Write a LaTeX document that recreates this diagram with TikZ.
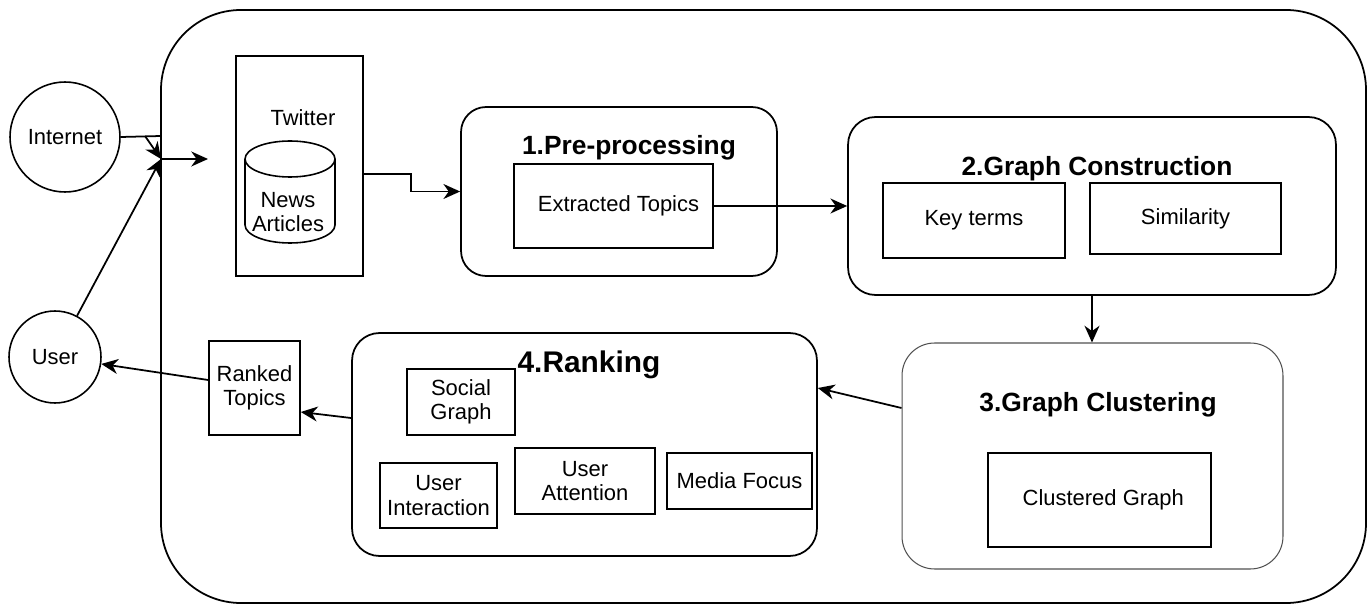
\documentclass[tikz,border=0pt]{standalone}
\usepackage{fontspec}
\setmainfont{Liberation Sans}
\usetikzlibrary{positioning, arrows.meta, shapes}
\definecolor{cgrey}{RGB}{80,80,80}

\begin{document}
\begin{tikzpicture}[x=0.02cm, y=-0.02cm,
    box/.style={draw, line width=0.9pt, rectangle, inner sep=2pt, align=center, font=\fontsize{12.5}{14}\selectfont},
    stage/.style={draw, line width=1pt, rectangle, rounded corners=0.5cm},
    stagetitle/.style={font=\fontsize{15}{18}\selectfont\bfseries},
    lbl/.style={align=center, font=\fontsize{12.5}{14}\selectfont},
    arr/.style={line width=1pt, -{Stealth[length=9.5pt, width=8.5pt, inset=3pt]}}]
        \useasboundingbox (0,0) rectangle (1369,604);

        % system frame
        \draw[line width=1pt, rounded corners=1.6cm] (161,10) rectangle (1366,603);

        % outside actors
        \node[draw, circle, line width=0.9pt, minimum size=2.2cm, lbl] (internet) at (65,137) {Internet};
        \node[draw, circle, line width=0.9pt, minimum size=1.84cm, lbl] (user) at (55,357) {User};
        \coordinate (hub) at (161,159);
        \coordinate (feed) at (208,159);

        % sources
        \node[draw, line width=0.9pt, minimum width=2.54cm, minimum height=4.4cm] (twitter) at (299.5,166) {};
        \node[lbl] (twitterlbl) at (303,118) {Twitter};
        \draw[line width=0.9pt] (290,159) ellipse[x radius=45, y radius=18];
        \draw[line width=0.9pt] (245,159) -- (245,225) arc[start angle=180, end angle=0, x radius=45, y radius=18] -- (335,159);
        \node[lbl] (news) at (288,212) {News\\Articles};

        % 1. pre-processing
        \node[stage, minimum width=6.32cm, minimum height=3.38cm] (pre) at (619,191.5) {};
        \node[stagetitle] (pretitle) at (629,148) {1.Pre-processing};
        \node[box, minimum width=3.98cm, minimum height=1.68cm] (extracted) at (613.5,206) {\hspace{0.2cm}Extracted Topics};

        % 2. graph construction
        \node[stage, rounded corners=0.55cm, minimum width=9.76cm, minimum height=3.56cm] (gc) at (1092,206) {};
        \node[stagetitle] (gctitle) at (1097,169) {2.Graph Construction};
        \node[box, minimum width=3.64cm, minimum height=1.5cm] (keyterms) at (974,220.5) {Key terms};
        \node[box, minimum width=3.82cm, minimum height=1.42cm] (similarity) at (1185.5,218.5) {Similarity};

        % 3. graph clustering
        \node[stage, draw=cgrey, line width=0.6pt, rounded corners=0.65cm, minimum width=7.62cm, minimum height=4.52cm] (clu) at (1092.5,456) {};
        \node[stagetitle] (clutitle) at (1098,405) {3.Graph Clustering};
        \node[box, minimum width=4.46cm, minimum height=1.88cm] (clustered) at (1099.5,500) {\hspace{0.15cm}Clustered Graph};

        % 4. ranking
        \node[stage, rounded corners=0.55cm, minimum width=9.3cm, minimum height=4.46cm] (rank) at (584.5,444.5) {};
        \node[stagetitle, font=\fontsize{17}{20}\selectfont\bfseries] (ranktitle) at (589,365) {4.Ranking};
        \node[box, minimum width=2.16cm, minimum height=1.32cm] (social) at (461,402) {Social\\Graph};
        \node[box, minimum width=2.34cm, minimum height=1.3cm] (interaction) at (438.5,495.5) {User\\Interaction};
        \node[box, minimum width=2.8cm, minimum height=1.32cm] (attention) at (585,481) {User\\Attention};
        \node[box, minimum width=2.9cm, minimum height=1.12cm] (media) at (739.5,481) {Media Focus};

        \node[box, minimum width=1.82cm, minimum height=1.88cm] (ranked) at (254.5,388) {Ranked\\Topics};

        % connectors
        \draw[line width=1pt] (internet.east) -- (161,136);
        \draw[arr] (145,136) -- (hub);
        \draw[arr] (user) -- (hub);
        \draw[arr] (hub) -- (feed);
        \draw[arr] ([yshift=-0.16cm]twitter.east) -- ++(47,0) |- (pre.west);
        \draw[arr] (extracted.east) -- (gc.west);
        \draw[arr] (gc.south) -- (gc.south |- clu.north);
        \draw[arr] ([yshift=0.96cm]clu.west) -- ([yshift=1.13cm]rank.east);
        \draw[arr] ([yshift=0.53cm]rank.west) -- ([yshift=-0.48cm]ranked.east);
        \draw[arr] ([yshift=0.16cm]ranked.west) -- (user);
\end{tikzpicture}
\end{document}
